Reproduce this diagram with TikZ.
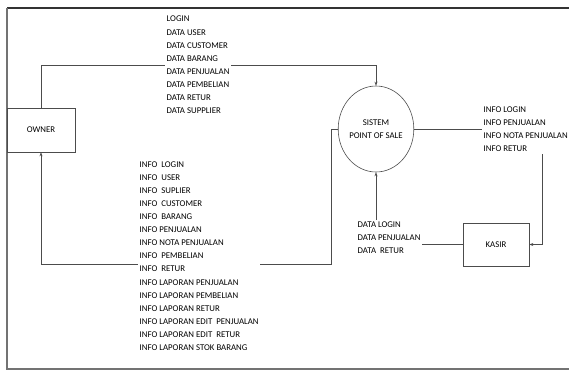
\documentclass[tikz,border=0pt]{standalone}
\usepackage{fontspec}
\setmainfont{Carlito}
\usetikzlibrary{shapes.geometric, arrows.meta}

\begin{document}
\begin{tikzpicture}[x=1pt, y=-1pt, font=\fontsize{8.8}{13.1}\selectfont,
		ent/.style={draw=black!70, line width=.6pt, inner sep=0pt},
		proc/.style={draw=black!70, line width=.6pt, ellipse, inner sep=0pt, align=center,
			minimum width=66pt, minimum height=86pt},
		lbl/.style={fill=white, align=left, anchor=west, inner sep=1.5pt},
		flow/.style={draw=black!70, line width=.6pt, -{Stealth[length=4pt, width=3pt]}}]
	\useasboundingbox (0,0) rectangle (569,370);
	\draw[black!80, line width=1.3pt] (569,8) -- (7,8);
	\draw[black!55, line width=1.3pt] (7,8) -- (7,369) -- (569,369);

	\node[ent, minimum width=68pt, minimum height=44pt] (own) at (41,130) {OWNER};
	\node[ent, minimum width=66pt, minimum height=43pt] (ksr) at (496,244.5) {KASIR};
	\node[proc] (prc) at (376,129) {SISTEM\\POINT OF SALE};

	\coordinate (t1) at (376,65);
	\coordinate (b1) at (331,264);
	\coordinate (r1) at (542,129);

	\draw[flow] (own.north) |- (t1) -- (prc.north);
	\draw[flow] (prc.west) -| (b1) -| (own.south);
	\draw[flow] (prc.east) -- (r1) |- (ksr.east);
	\draw[flow] (ksr.west) -| (prc.south);

	\node[lbl] (dtown) at (165,65) {LOGIN\\DATA USER\\DATA CUSTOMER\\DATA BARANG\\DATA PENJUALAN\\DATA PEMBELIAN\\DATA RETUR\\DATA SUPPLIER};
	\node[lbl] (inown) at (138,256) {INFO\ \ LOGIN\\INFO\ \ USER\\INFO\ \ SUPLIER\\INFO\ \ CUSTOMER\\INFO\ \ BARANG\\INFO PENJUALAN\\INFO NOTA PENJUALAN\\INFO\ \ PEMBELIAN\\INFO\ \ RETUR\\INFO LAPORAN PENJUALAN\\INFO LAPORAN PEMBELIAN\\INFO LAPORAN RETUR\\INFO LAPORAN EDIT\ \ PENJUALAN\\INFO LAPORAN EDIT\ \ RETUR\\INFO LAPORAN STOK BARANG};
	\node[lbl] (inksr) at (482,129.5) {INFO LOGIN\\INFO PENJUALAN\\INFO NOTA PENJUALAN\\INFO RETUR};
	\node[lbl] (dtksr) at (356,237.5) {DATA LOGIN\\DATA PENJUALAN\\DATA\ \ RETUR};
\end{tikzpicture}
\end{document}
